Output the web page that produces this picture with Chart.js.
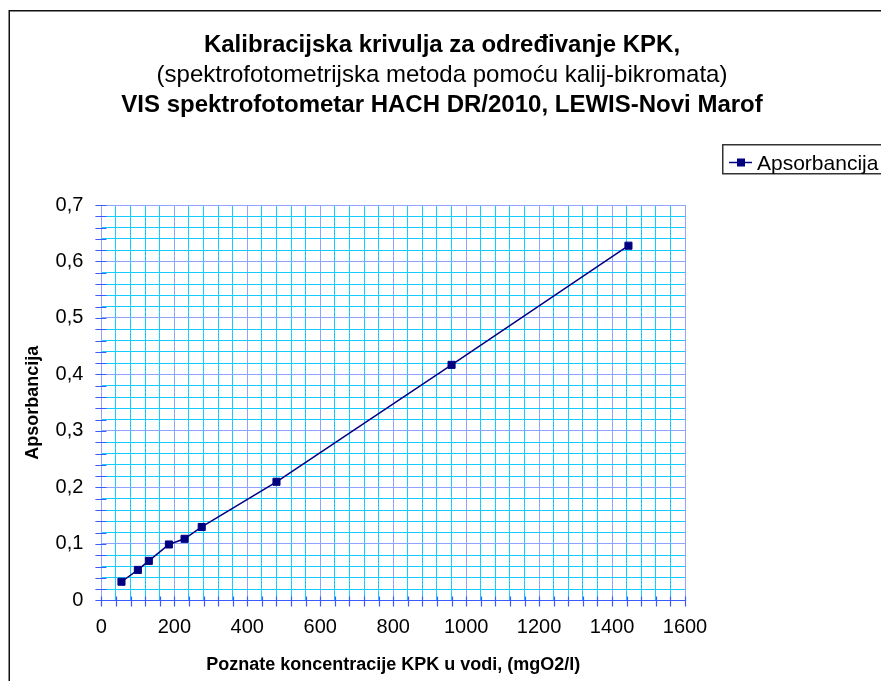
<!DOCTYPE html>
<html>
<head>
<meta charset="utf-8">
<script src="https://cdn.jsdelivr.net/npm/chart.js@4.4.1/dist/chart.umd.min.js"></script>
<style>
  html, body { margin: 0; padding: 0; background: #fff; overflow: hidden; }
  #wrap { position: relative; width: 881px; height: 681px; }
</style>
</head>
<body>
<div id="wrap"><canvas id="chart"></canvas></div>
<script>
// values
const concentrations = [55, 100, 130, 185, 228, 275, 480, 960, 1445]
const absorbances = [0.033, 0.054, 0.070, 0.099, 0.109, 0.130, 0.210, 0.417, 0.628]
const seriesName = 'Apsorbancija'
const titleLines = [
    { text: 'Kalibracijska krivulja za određivanje KPK,', bold: true },
    { text: '(spektrofotometrijska metoda pomoću kalij-bikromata)', bold: false },
    { text: 'VIS spektrofotometar HACH DR/2010, LEWIS-Novi Marof', bold: true }
]
const xTitle = 'Poznate koncentracije KPK u vodi, (mgO2/l)'
const yTitle = 'Apsorbancija'

const fontFamily = "'Liberation Sans', Arial, sans-serif"
const navy = '#000080'
const axisBlue = '#3a5cff'
const majorGrid = '#8ea4ff'
const minorGrid = '#14ccff'

const ctx = document.getElementById('chart').getContext('2d')

const isMajorX = v => Math.round(v) % 200 === 0
const isMajorY = v => Math.round(v * 100) % 10 === 0

// frame round the whole chart object, cut off on the right and bottom
const framePlugin = {
    id: 'frame',
    afterDraw(chart) {
        const c = chart.ctx
        c.save()
        c.strokeStyle = '#111'
        c.lineWidth = 1.5
        c.strokeRect(9.25, 10.75, 1000, 1000)
        c.restore()
    }
}

// three title lines, middle one not bold
const headingPlugin = {
    id: 'heading',
    afterDraw(chart) {
        const c = chart.ctx
        c.save()
        c.fillStyle = '#000'
        c.textAlign = 'center'
        c.textBaseline = 'middle'
        titleLines.forEach((line, i) => {
            c.font = `${line.bold ? 'bold ' : ''}24px ${fontFamily}`
            c.fillText(line.text, 442, 45 + i * 30)
        })
        c.restore()
    }
}

// ticks that cross the axes, like the original
const crossTicks = {
    id: 'crossTicks',
    beforeDatasetsDraw(chart) {
        const { ctx: c, scales: { x, y } } = chart
        c.save()
        c.strokeStyle = axisBlue
        c.lineWidth = 1.2
        c.beginPath()
        x.ticks.forEach(t => {
            const px = Math.round(x.getPixelForValue(t.value)) + 0.5
            c.moveTo(px, y.bottom - 4)
            c.lineTo(px, y.bottom + 6)
        })
        y.ticks.forEach(t => {
            const py = Math.round(y.getPixelForValue(t.value)) + 0.5
            c.moveTo(x.left - 6, py)
            c.lineTo(x.left + 5, py)
        })
        c.stroke()
        c.restore()
    }
}

// boxed legend on the right, partly outside the picture
const legendPlugin = {
    id: 'boxLegend',
    afterDraw(chart) {
        const c = chart.ctx
        const ds = chart.data.datasets[0]
        c.save()
        c.strokeStyle = '#333'
        c.lineWidth = 1.5
        c.strokeRect(722.75, 144.75, 300, 29)
        c.strokeStyle = ds.borderColor
        c.lineWidth = 1.5
        c.beginPath()
        c.moveTo(729, 162.5)
        c.lineTo(752, 162.5)
        c.stroke()
        c.fillStyle = ds.pointBackgroundColor
        c.fillRect(737, 158.5, 8, 8)
        c.fillStyle = '#000'
        c.font = `21px ${fontFamily}`
        c.textBaseline = 'alphabetic'
        c.fillText(ds.label, 757, 169.5)
        c.restore()
    }
}

const myChart = new Chart(ctx, {
    type: 'scatter',
    data: {
        datasets: [{
            label: seriesName,
            data: concentrations.map((c, i) => ({ x: c, y: absorbances[i] })),
            showLine: true,
            borderColor: navy,
            borderWidth: 1.5,
            pointStyle: 'rect',
            pointRadius: 5,
            pointBorderWidth: 1,
            pointBackgroundColor: navy,
            pointBorderColor: navy
        }]
    },
    options: {
        responsive: true,
        maintainAspectRatio: false,
        animation: false,
        layout: {
            padding: { left: 18, right: 196, top: 205, bottom: 3 }
        },
        plugins: {
            legend: { display: false },
            title: { display: false },
            tooltip: { enabled: false }
        },
        scales: {
            x: {
                type: 'linear',
                min: 0,
                max: 1600,
                grid: {
                    drawTicks: false,
                    color: c => isMajorX(c.tick.value) ? majorGrid : minorGrid
                },
                border: { color: axisBlue, width: 1 },
                ticks: {
                    stepSize: 40,
                    autoSkip: false,
                    maxRotation: 0,
                    padding: 15,
                    color: '#000',
                    font: { family: fontFamily, size: 20 },
                    callback: v => isMajorX(v) ? String(Math.round(v)) : ''
                },
                title: {
                    display: true,
                    text: xTitle,
                    color: '#000',
                    padding: { top: 0, bottom: 2 },
                    font: { family: fontFamily, size: 18, weight: 'bold' }
                }
            },
            y: {
                type: 'linear',
                min: 0,
                max: 0.7,
                grid: {
                    drawTicks: false,
                    color: c => isMajorY(c.tick.value) ? majorGrid : minorGrid
                },
                border: { color: majorGrid, width: 1 },
                ticks: {
                    stepSize: 0.02,
                    autoSkip: false,
                    padding: 18,
                    color: '#000',
                    font: { family: fontFamily, size: 20 },
                    callback: v => {
                        if (!isMajorY(v)) return ''
                        const r = Math.round(v * 10) / 10
                        return r === 0 ? '0' : r.toFixed(1).replace('.', ',')
                    }
                },
                title: {
                    display: true,
                    text: yTitle,
                    color: '#000',
                    padding: { top: 4, bottom: -6 },
                    font: { family: fontFamily, size: 18, weight: 'bold' }
                }
            }
        }
    },
    plugins: [crossTicks, headingPlugin, legendPlugin, framePlugin]
})
</script>
</body>
</html>
